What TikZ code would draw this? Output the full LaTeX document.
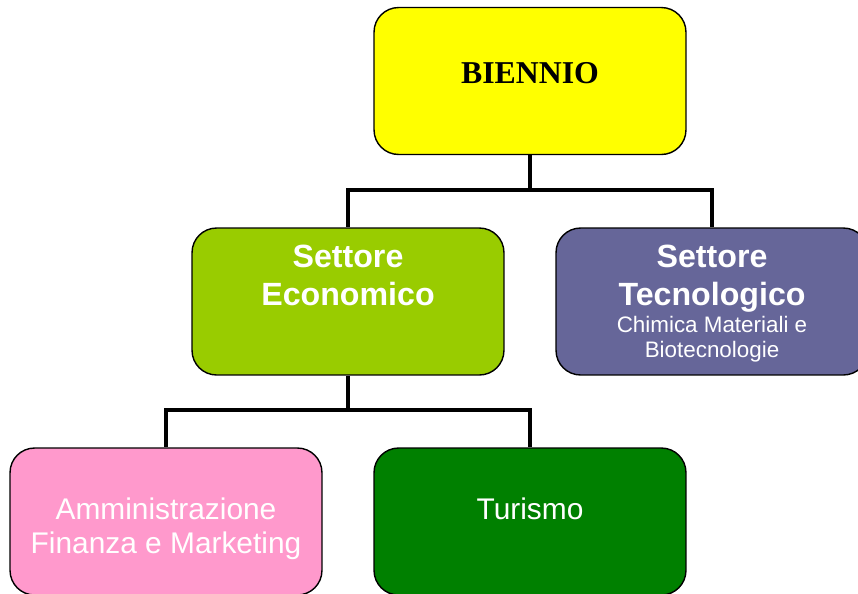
\documentclass[tikz,border=0pt]{standalone}
\usepackage{fontspec}
\setmainfont{Liberation Sans}
\newfontfamily\titlefont{Liberation Serif}
\definecolor{biennioyellow}{HTML}{FFFF00}
\definecolor{ecogreen}{HTML}{99CC00}
\definecolor{tecpurple}{HTML}{666699}
\definecolor{afmpink}{HTML}{FF99CC}
\definecolor{turgreen}{HTML}{008000}

\begin{document}
\begin{tikzpicture}[x=0.02cm, y=-0.02cm,
  box/.style={draw, line width=0.8pt, rounded corners=14pt, inner sep=0pt,
    minimum width=6.24cm, minimum height=2.94cm},
  link/.style={line width=2.8pt},
  head/.style={text=white, inner sep=0pt, align=center,
    font=\bfseries\fontsize{18.3}{21.5}\selectfont},
  sub/.style={text=white, inner sep=0pt, align=center,
    font=\fontsize{12.75}{14.2}\selectfont},
  leaf/.style={text=white, inner sep=0pt, align=center,
    font=\fontsize{17}{19.8}\selectfont}]
\useasboundingbox (0,0) rectangle (858,593);
\pgfmathsetmacro\busa{190}
\pgfmathsetmacro\busb{410}
\node[box, fill=biennioyellow] (biennio) at (530,81) {};
\node[box, fill=ecogreen] (eco) at (348,301.5) {};
\node[box, fill=tecpurple] (tec) at (712,301.5) {};
\node[box, fill=afmpink] (afm) at (166,521.5) {};
\node[box, fill=turgreen] (tur) at (530,521.5) {};
\node[anchor=base, inner sep=0pt, font=\titlefont\bfseries\fontsize{18.1}{20}\selectfont] (biennioText) at (530,83) {BIENNIO};
\node[head, anchor=north] (ecoText) at (348,245) {Settore\\Economico};
\node[head, anchor=north] (tecText) at (712,245) {Settore\\Tecnologico};
\node[sub, anchor=north] (tecSub) at (712,315.6) {Chimica Materiali e\\Biotecnologie};
\node[leaf, anchor=north] (afmText) at (166,497) {Amministrazione\\Finanza e Marketing};
\node[leaf, anchor=north] (turText) at (530,497.6) {Turismo};
\coordinate (busTop) at (530,\busa);
\coordinate (busEco) at (348,\busb);
\draw[link] (biennio.south) -- (busTop);
\draw[link] (busTop) -| (eco.north);
\draw[link] (busTop) -| (tec.north);
\draw[link] (eco.south) -- (busEco);
\draw[link] (busEco) -| (afm.north);
\draw[link] (busEco) -| (tur.north);
\end{tikzpicture}
\end{document}
